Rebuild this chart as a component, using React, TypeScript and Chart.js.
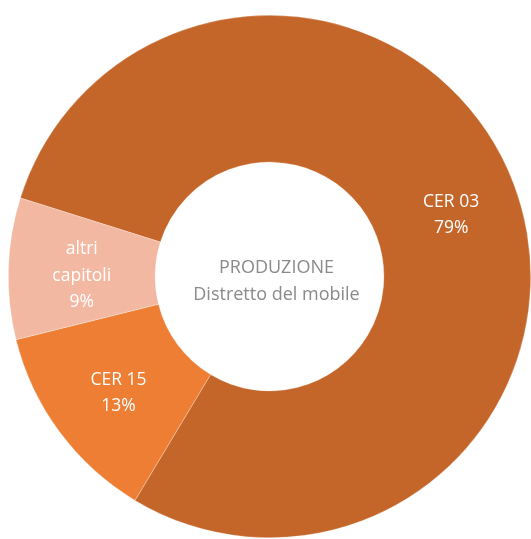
import React, { useEffect, useRef } from "react";
import { Chart, registerables } from "chart.js";

Chart.register(...registerables);

const categories = ["CER 03", "CER 15", "altri capitoli"];
const labelLines = [["CER 03"], ["CER 15"], ["altri", "capitoli"]];
const values = [78.75, 12.5, 8.75];
const colors = ["#C4662A", "#ED7E33", "#F3B8A2"];
const centerLines = ["PRODUZIONE", "Distretto del mobile"];

const FONT = "'Open Sans', 'Noto Sans', sans-serif";

const labelPlugin = {
  id: "sliceLabels",
  afterDatasetsDraw(chart: any) {
    const ctx = chart.ctx;
    const meta = chart.getDatasetMeta(0);
    const total = values.reduce((a, b) => a + b, 0);
    ctx.save();
    ctx.textAlign = "center";
    ctx.textBaseline = "middle";
    ctx.fillStyle = "#ffffff";
    ctx.font = `17.5px ${FONT}`;
    meta.data.forEach((arc: any, i: number) => {
      const p = arc.tooltipPosition();
      const lines = [...labelLines[i], Math.round((values[i] / total) * 100) + "%"];
      const lh = 26.5;
      const dx = i === 0 ? 6 : 0;
      const startY = p.y + 5 - ((lines.length - 1) * lh) / 2;
      lines.forEach((t, j) => ctx.fillText(t, p.x + dx, startY + j * lh));
    });
    // center text
    const arc0: any = meta.data[0];
    const cx = arc0.x;
    const cy = arc0.y;
    ctx.fillStyle = "#8a8a8a";
    ctx.font = `18px ${FONT}`;
    ctx.fillText(centerLines[0], cx + 7, cy - 9);
    ctx.fillText(centerLines[1], cx + 7, cy + 18);
    ctx.restore();
  },
};

export default function App() {
  const ref = useRef<HTMLCanvasElement>(null);
  useEffect(() => {
    const canvas = ref.current!;
    const chart = new Chart(canvas, {
      type: "doughnut",
      data: {
        labels: categories,
        datasets: [
          {
            data: values,
            backgroundColor: colors,
            borderColor: "rgba(255,255,255,0.45)",
            borderWidth: 0.6,
          },
        ],
      },
      options: {
        responsive: false,
        animation: false,
        rotation: 287.5,
        cutout: "43.8%",
        layout: { padding: { left: 8, top: 15, right: 0, bottom: 1 } },
        plugins: {
          legend: { display: false },
          tooltip: { enabled: false },
        },
      },
      plugins: [labelPlugin],
    });
    return () => chart.destroy();
  }, []);
  return (
    <div style={{ position: "absolute", left: 0, top: 0, width: 531, height: 539, background: "#fff" }}>
      <canvas ref={ref} width={531} height={539} style={{ width: 531, height: 539, display: "block" }} />
    </div>
  );
}
